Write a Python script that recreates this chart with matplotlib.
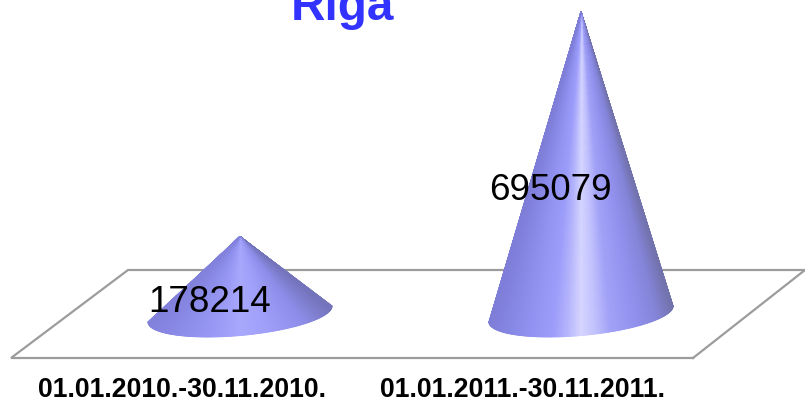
import numpy as np
import matplotlib
matplotlib.use('Agg')
import matplotlib.pyplot as plt
from matplotlib.colors import LinearSegmentedColormap

title = 'Riga'
categories = ['01.01.2010.-30.11.2010.', '01.01.2011.-30.11.2011.']
values = [178214, 695079]

W, H = 805, 403
plt.rcParams['font.family'] = ['Liberation Sans']
fig = plt.figure(figsize=(W/100, H/100), dpi=100)
ax = fig.add_axes([0, 0, 1, 1])
ax.set_xlim(0, W); ax.set_ylim(H, 0); ax.axis('off')

ax.plot([693, 11, 128, 805, 693], [358, 358, 270, 270, 358], color='#9c9c9c', lw=1.6, zorder=1,
        solid_joinstyle='miter')

cmap_tall = LinearSegmentedColormap.from_list('tall', [
    (0, '#7e7ed8'), (.1, '#8686e4'), (.22, '#9292f2'), (.34, '#9c9cfa'), (.42, '#b4b4fc'),
    (.5, '#d6d6ff'), (.57, '#c4c4fe'), (.66, '#a2a2f8'), (.8, '#9292ee'), (.92, '#8484d8'), (1, '#7272ac')])
cmap_low = LinearSegmentedColormap.from_list('low', [
    (0, '#8282dc'), (.2, '#8e8eec'), (.4, '#9e9ef8'), (.5, '#a8a8fc'), (.65, '#a0a0fa'),
    (.85, '#8e8eea'), (1, '#7474bc')])
cmaps = [cmap_low, cmap_tall]

base_y = 314.0
apex_top = 12.0
scale = (base_y - apex_top) / values[1]
centers = [240, 581]
half_w = 92.0
tilt = 8.0
ry = 21.5
labels_x = [210, 550]
labels_y = [302, 190]
cat_x = [182, 522]

t = np.linspace(0, np.pi, 241)
s = np.linspace(0, 1, 40)
for c, v, lx, ly, cx, cm, cat in zip(centers, values, labels_x, labels_y, cat_x, cmaps, categories):
    apex = base_y - v * scale
    bx = c + half_w * np.cos(t)
    by = base_y - tilt * np.cos(t) + ry * np.sin(t)
    X = c + np.outer(s, bx - c)
    Y = apex + np.outer(s, by - apex)
    C = np.tile((bx - c + half_w) / (2 * half_w), (len(s), 1))
    ax.pcolormesh(X, Y, C, cmap=cm, vmin=0, vmax=1, shading='gouraud', zorder=2)
    ax.text(lx, ly, f'{v}', fontsize=26.5, ha='center', va='center', color='black', zorder=3)
    ax.text(cx, 390, cat, fontsize=19.2, fontweight='bold', ha='center', va='center', zorder=3)

ax.set_xlim(0, W); ax.set_ylim(H, 0)
ax.text(342, 7, title, fontsize=34.4, fontweight='bold', color='#3333ff', ha='center', va='center', zorder=3)
fig.savefig('out.png', dpi=100)
